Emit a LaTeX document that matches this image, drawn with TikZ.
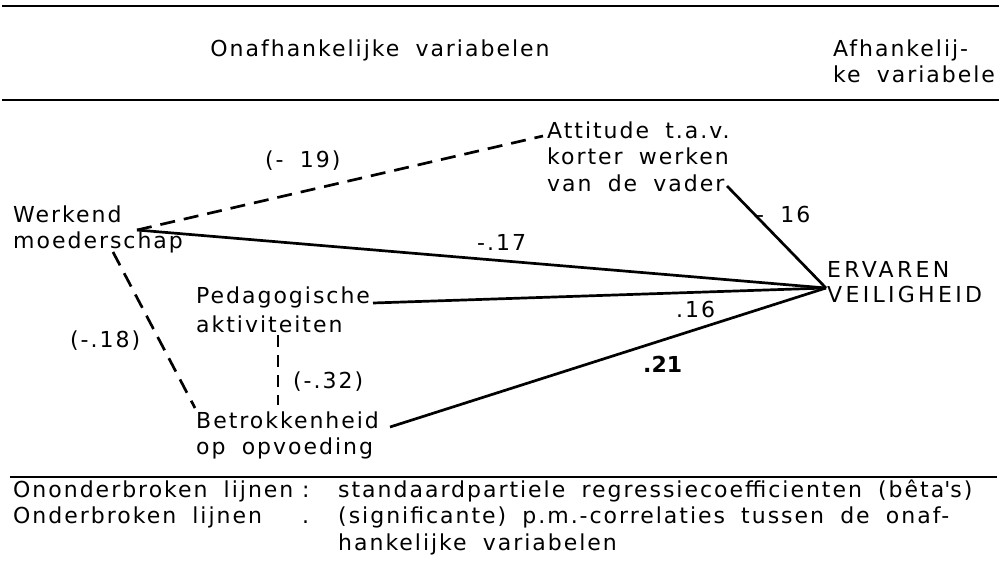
\documentclass[tikz,border=0pt]{standalone}
\usepackage{fontspec}
\setmainfont{DejaVu Sans}[LetterSpace=9,WordSpace=1.8]
\newcommand{\ml}[1]{\begin{tabular}[t]{@{}l@{}}#1\end{tabular}}
\begin{document}
\begin{tikzpicture}[x=1pt,y=-1pt,
  txt/.style={inner sep=0pt, anchor=base west, font=\fontsize{22}{26.5}\selectfont},
  rule/.style={line width=2.4pt},
  sol/.style={line width=2.7pt},
  dsh/.style={line width=2.7pt, dash pattern=on 15pt off 9pt},
  dshs/.style={line width=2.5pt, dash pattern=on 12pt off 8pt}]
\useasboundingbox (0,0) rectangle (999,584);
% rules
\coordinate (r1a) at (2,6);   \coordinate (r1b) at (999,6);
\coordinate (r2a) at (2,100); \coordinate (r2b) at (999,100);
\coordinate (r3a) at (10,477); \coordinate (r3b) at (997,477);
\draw[rule] (r1a) -- (r1b);
\draw[rule] (r2a) -- (r2b);
\draw[rule] (r3a) -- (r3b);
% header
\node[txt, anchor=base] (hdr1) at (380,56) {Onafhankelijke variabelen};
\node[txt] (hdr2) at (833,56) {\ml{Afhankelij-\\ke variabele}};
% variables
\node[txt] (werk) at (13,222) {\ml{Werkend\\moederschap}};
\node[txt] (att) at (547,138) {\ml{Attitude t.a.v.\\korter werken\\van de vader}};
\node[txt] (ped) at (196,303) {\ml{Pedagogische\\[2.5pt]aktiviteiten}};
\node[txt] (betr) at (196,428) {\ml{Betrokkenheid\\op opvoeding}};
\node[txt] (erv) at (827,277) {\addfontfeature{LetterSpace=15}\ml{ERVAREN\\[-1.5pt]VEILIGHEID}};
% connector end points
\coordinate (wA) at (137,230);
\coordinate (wB) at (113,252);
\coordinate (aA) at (543,136);
\coordinate (aB) at (727,186);
\coordinate (pA) at (373,303);
\coordinate (pB) at (278,335);
\coordinate (bA) at (390,427);
\coordinate (bB) at (195,408);
\coordinate (bC) at (278,405);
\coordinate (V) at (826,288);
% connectors
\draw[dsh] (wA) -- (aA);
\draw[sol] (wA) -- (V);
\draw[sol] (aB) -- (V);
\draw[sol] (pA) -- (V);
\draw[sol] (bA) -- (V);
\draw[dsh] (wB) -- (bB);
\draw[dshs] (pB) -- (bC);
% coefficients
\node[txt] (c19) at (265,167) {(- 19)};
\node[txt] (c17) at (477,250) {-.17};
\node[txt] (c16a) at (756,222) {- 16};
\node[txt] (c16b) at (676,317) {.16};
\node[txt, font=\fontsize{22}{26.5}\selectfont\bfseries\addfontfeature{LetterSpace=0}] (c21) at (643,372) {.21};
\node[txt] (c18) at (70,347) {(-.18)};
\node[txt] (c32) at (293,388) {(-.32)};
% legend
\node[txt] (leg1) at (13,497) {\ml{Ononderbroken lijnen\\Onderbroken lijnen}};
\node[txt] (leg2) at (302,497) {\ml{:\\.}};
\node[txt] (leg3) at (338,497) {\ml{standaardpartiele regressiecoefficienten (bêta\textquotesingle s)\\(significante) p.m.-correlaties tussen de onaf-\\hankelijke variabelen}};
\end{tikzpicture}
\end{document}
